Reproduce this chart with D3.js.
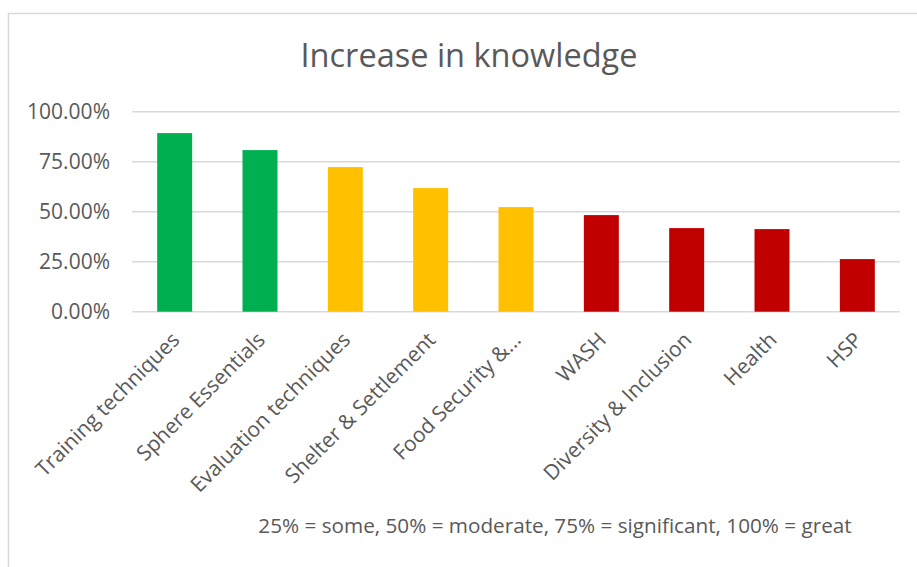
<!DOCTYPE html>
<html>
<head>
<meta charset="utf-8">
<script src="https://cdn.jsdelivr.net/npm/d3@7"></script>
<style>
  body { margin: 0; background: #fff; }
  text { font-family: "Open Sans", sans-serif; fill: #595959; }
</style>
</head>
<body>
<script>
// chart data
const categories = ["Training techniques", "Sphere Essentials", "Evaluation techniques",
    "Shelter & Settlement", "Food Security &...", "WASH", "Diversity & Inclusion", "Health", "HSP"];
const values = [0.893, 0.808, 0.723, 0.618, 0.523, 0.483, 0.418, 0.413, 0.263];
const levels = ["great", "great", "moderate", "moderate", "moderate", "some", "some", "some", "some"];
const yTicks = [0, 0.25, 0.5, 0.75, 1];
const title = "Increase in knowledge";
const note = "25% = some, 50% = moderate, 75% = significant, 100% = great";

const colour = d3.scaleOrdinal()
    .domain(["great", "moderate", "some"])
    .range(["#00B050", "#FFC000", "#C00000"]);

const width = 917, height = 567;
const svg = d3.select("body").append("svg")
    .attr("width", width)
    .attr("height", height);

// chart frame (top and left edges show, the rest is cut off)
svg.append("path")
    .attr("d", "M8.5,567 V13.5 H917")
    .attr("fill", "none")
    .attr("stroke", "#D9D9D9")
    .attr("stroke-width", 1.5);

const x = d3.scaleBand()
    .domain(categories)
    .range([132, 900])
    .paddingInner(0.59)
    .paddingOuter(0.295);

const y = d3.scaleLinear()
    .domain([0, 1])
    .range([311.7, 111.7]);

// gridlines
svg.append("g")
    .selectAll("line")
    .data(yTicks)
    .enter()
    .append("line")
    .attr("x1", 132)
    .attr("x2", 900)
    .attr("y1", d => y(d))
    .attr("y2", d => y(d))
    .attr("stroke", "#D9D9D9")
    .attr("stroke-width", 1.5);

// y axis labels
const yAxis = svg.append("g")
    .attr("transform", "translate(110,0)")
    .call(d3.axisLeft(y).tickValues(yTicks).tickFormat(d3.format(".2%")).tickSize(0).tickPadding(0));
yAxis.select(".domain").remove();
yAxis.selectAll("text")
    .attr("fill", "#595959")
    .style("font-size", "21px")
    .style("font-family", "'Open Sans', sans-serif");

// bars
svg.append("g")
    .selectAll("rect")
    .data(categories)
    .enter()
    .append("rect")
    .attr("x", d => x(d))
    .attr("width", x.bandwidth())
    .attr("y", (d, i) => y(values[i]))
    .attr("height", (d, i) => y(0) - y(values[i]))
    .attr("fill", (d, i) => colour(levels[i]));

// category labels, rotated
svg.append("g")
    .selectAll("text")
    .data(categories)
    .enter()
    .append("text")
    .attr("transform", d => `translate(${x(d) + x.bandwidth() / 2 + 1},${336}) rotate(-45)`)
    .attr("text-anchor", "end")
    .attr("dy", "0.35em")
    .style("font-size", "21px")
    .text(d => d);

// title
svg.append("text")
    .attr("x", 469)
    .attr("y", 67)
    .attr("text-anchor", "middle")
    .style("font-size", "32.5px")
    .text(title);

// footnote
svg.append("text")
    .attr("x", 555)
    .attr("y", 533)
    .attr("text-anchor", "middle")
    .style("font-size", "20.7px")
    .text(note);
</script>
</body>
</html>
